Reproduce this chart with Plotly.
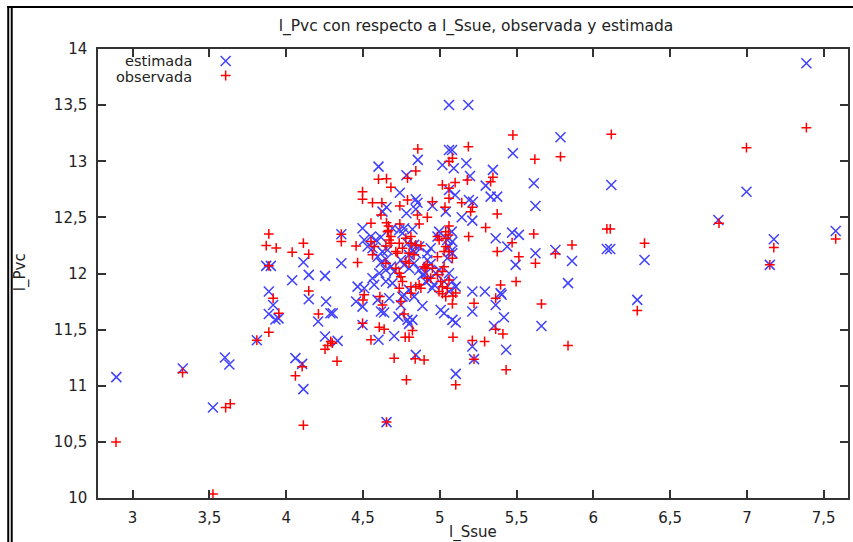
import plotly.graph_objects as go

# Estimated values (fitted l_Pvc) against l_Ssue
est_x = [
    2.894, 3.327, 3.523, 3.601, 3.63, 3.809, 3.87, 3.90, 3.887, 3.915, 3.887, 3.93, 3.95,
    4.039, 4.06, 4.104, 4.112, 4.112, 4.147, 4.253, 4.359, 4.359, 4.147, 4.26, 4.288, 4.303,
    4.208, 4.253, 4.335, 4.653,
    4.465, 4.455, 4.497, 4.617, 4.638, 4.757, 4.747, 4.731, 4.79, 4.822, 4.80, 4.497, 4.703,
    4.601, 4.844, 5.006, 5.028, 4.887, 5.082, 5.104, 5.104, 5.212, 5.294, 5.212, 5.364, 5.403,
    5.418, 5.353, 5.212, 5.223, 5.432, 5.662,
    5.06, 5.186, 5.06, 5.08, 5.476, 4.857, 5.017, 5.091, 5.173, 4.601, 4.783, 5.346, 5.197,
    5.612, 5.299, 5.06, 5.10, 4.74, 5.331, 5.374, 4.844, 4.855, 5.19, 5.216, 5.623, 4.653,
    4.952, 4.844, 4.627, 4.783, 5.039, 5.143, 5.212, 4.497, 4.768, 4.822, 5.078, 5.471, 5.515,
    5.364, 5.439, 5.623, 5.494, 5.396,
    4.508, 4.552, 4.584, 4.617, 4.53, 4.562, 4.627, 4.66, 4.692, 4.736, 4.757, 4.79, 4.833,
    4.866, 4.822, 4.844, 4.80, 4.595, 4.649, 4.617, 4.919, 4.941, 4.985, 4.996, 5.049, 5.06,
    5.082, 5.082, 5.049, 5.071, 4.919, 4.941,
    4.974, 4.995, 5.06, 5.028, 5.082, 5.104, 5.06, 4.768, 4.833, 4.747, 4.606, 4.649, 4.682,
    4.703, 4.80, 4.866, 4.887, 4.909, 4.931, 4.909, 4.963, 4.952, 4.80, 4.768, 4.833, 4.649,
    4.692, 4.562, 4.573, 4.508, 4.671, 4.595,
    5.753, 5.861, 5.835, 6.088, 6.11, 6.333, 6.286, 6.814, 7.175, 7.149, 7.578, 7.387, 6.997,
    6.117, 5.786,
]
est_y = [
    11.077, 11.153, 10.806, 11.251, 11.19, 11.406, 12.068, 12.068, 11.839, 11.72, 11.64, 11.59, 11.60,
    11.94, 11.246, 11.195, 10.97, 12.10, 11.988, 11.979, 12.35, 12.092, 11.771, 11.75, 11.646, 11.646,
    11.572, 11.438, 11.40, 10.676,
    11.883, 11.75, 11.705, 11.661, 11.652, 11.794, 11.72, 11.616, 11.587, 11.587, 11.551, 11.542, 11.444,
    11.409, 11.275, 11.675, 11.646, 11.711, 11.587, 11.563, 11.106, 11.839, 11.839, 11.661, 11.72, 11.81,
    11.611, 11.533, 11.349, 11.237, 11.32, 11.533,
    13.501, 13.501, 13.10, 13.10, 13.071, 13.012, 12.967, 12.937, 12.982, 12.952, 12.875, 12.923, 12.869,
    12.804, 12.783, 12.744, 12.70, 12.72, 12.685, 12.685, 12.662, 12.631, 12.655, 12.64, 12.602, 12.59,
    12.602, 12.573, 12.551, 12.537, 12.551, 12.501, 12.471, 12.403, 12.403, 12.394, 12.373, 12.364, 12.344,
    12.314, 12.24, 12.181, 12.077, 11.825,
    12.299, 12.329, 12.299, 12.323, 12.24, 12.225, 12.195, 12.21, 12.403, 12.388, 12.359, 12.27, 12.255,
    12.24, 12.21, 12.181, 12.166, 12.15, 12.127, 12.097, 12.181, 12.225, 12.329, 12.373, 12.299, 12.24,
    12.284, 12.181, 12.136, 12.195, 12.121, 12.086,
    12.003, 12.032, 12.003, 11.928, 11.928, 11.883, 11.839, 12.077, 12.092, 12.121, 12.003, 12.032, 12.061,
    12.017, 12.047, 12.032, 11.988, 12.003, 11.943, 11.928, 11.899, 11.869, 11.854, 11.809, 11.794, 11.928,
    11.914, 11.958, 11.899, 11.869, 11.78, 11.765,
    12.21, 12.112, 11.914, 12.219, 12.219, 12.121, 11.765, 12.477, 12.305, 12.077, 12.379, 13.873, 12.729,
    12.789, 13.214,
]

# Observed values of l_Pvc against l_Ssue
obs_x = [
    2.892, 3.325, 3.523, 3.606, 3.636, 3.809, 3.887, 3.952, 3.915, 3.887, 3.87, 3.935, 3.887,
    4.039, 4.06, 4.104, 4.112, 4.147, 4.359, 4.359, 4.455, 4.465, 4.147, 4.21, 4.29, 4.30,
    4.27, 4.253, 4.331, 4.112,
    4.508, 4.50, 4.61, 4.627, 4.747, 4.768, 4.497, 4.606, 4.638, 4.822, 4.775, 4.80, 4.552,
    4.703, 4.84, 4.898, 4.783, 4.653, 5.086, 5.104, 5.082, 5.017, 5.104, 5.086, 5.223, 5.364,
    5.364, 5.411, 5.212, 5.292, 5.223, 5.432, 5.662, 5.497, 5.396, 5.835,
    5.476, 5.186, 4.857, 5.619, 5.06, 5.082, 4.844, 4.79, 4.601, 4.653, 5.346, 5.331, 5.18,
    4.682, 5.017, 5.10, 5.06, 4.497, 4.497, 5.06, 4.562, 4.623, 4.79, 4.952, 5.143, 4.74,
    5.034, 5.212, 5.201, 4.617, 4.855, 4.919, 5.374, 4.552, 4.653, 4.666, 4.666, 4.74, 4.866,
    5.06, 5.039, 5.056, 5.299, 5.612, 5.188, 5.471, 5.374, 5.515, 5.623,
    4.552, 4.573, 4.649, 4.562, 4.66, 4.682, 4.67, 4.812, 4.779, 4.812, 4.844, 4.877, 4.736,
    4.682, 4.757, 4.80, 4.833, 4.649, 4.714, 4.725, 4.985, 4.996, 5.039, 5.039, 5.028, 5.06,
    5.082, 4.779, 4.80, 4.985,
    4.898, 4.919, 4.952, 4.985, 5.017, 5.028, 5.006, 5.06, 5.017, 5.049, 4.995, 5.039, 4.714,
    4.736, 4.747, 4.909, 4.919, 4.941, 4.812, 4.844, 4.877, 4.866, 4.736, 4.757, 4.812,
    5.753, 5.861, 6.088, 6.11, 6.333, 6.286, 6.818, 7.175, 7.149, 7.578, 7.387, 6.997, 6.117,
    5.786,
]
obs_y = [
    10.498, 11.118, 10.035, 10.806, 10.839, 11.406, 11.477, 11.646, 11.78, 12.068, 12.249, 12.228, 12.353,
    12.19, 11.088, 11.17, 12.27, 12.172, 12.35, 12.284, 12.246, 12.097, 11.845, 11.64, 11.394, 11.379,
    11.358, 11.326, 11.219, 10.649,
    11.81, 11.765, 11.794, 11.72, 11.75, 11.64, 11.557, 11.522, 11.504, 11.492, 11.433, 11.433, 11.409,
    11.246, 11.24, 11.23, 11.053, 10.676, 11.433, 11.008, 11.729, 11.82, 11.826, 11.80, 11.735, 11.78,
    11.504, 11.462, 11.403, 11.394, 11.237, 11.142, 11.729, 11.928, 11.898, 11.358,
    13.234, 13.13, 13.11, 13.018, 12.997, 13.027, 12.914, 12.849, 12.84, 12.845, 12.857, 12.818, 12.833,
    12.768, 12.789, 12.81, 12.76, 12.729, 12.662, 12.67, 12.631, 12.631, 12.655, 12.64, 12.631, 12.602,
    12.59, 12.59, 12.551, 12.522, 12.522, 12.501, 12.531, 12.448, 12.453, 12.424, 12.382, 12.442, 12.442,
    12.424, 12.373, 12.344, 12.409, 12.353, 12.329, 12.275, 12.195, 12.15, 12.092,
    12.284, 12.24, 12.246, 12.166, 12.373, 12.329, 12.299, 12.329, 12.314, 12.27, 12.255, 12.248, 12.27,
    12.27, 12.225, 12.181, 12.166, 12.092, 12.195, 12.181, 12.329, 12.299, 12.314, 12.24, 12.195, 12.195,
    12.136, 12.106, 12.092, 12.15,
    12.061, 12.077, 12.047, 11.988, 12.017, 12.061, 11.928, 11.943, 11.883, 11.869, 11.839, 11.794, 12.047,
    12.003, 11.972, 12.047, 11.958, 11.958, 11.883, 11.883, 11.869, 11.899, 11.869, 11.928, 11.825,
    12.175, 12.255, 12.397, 12.397, 12.27, 11.67, 12.448, 12.231, 12.077, 12.308, 13.299, 13.121, 13.24,
    13.041,
]

x_tickvals = [3, 3.5, 4, 4.5, 5, 5.5, 6, 6.5, 7, 7.5]
x_ticktext = ["3", "3,5", "4", "4,5", "5", "5,5", "6", "6,5", "7", "7,5"]
y_tickvals = [10, 10.5, 11, 11.5, 12, 12.5, 13, 13.5, 14]
y_ticktext = ["10", "10,5", "11", "11,5", "12", "12,5", "13", "13,5", "14"]

W, H = 853, 542
ML, MR, MT, MB = 98, 3, 49, 44
PW, PH = W - ML - MR, H - MT - MB

BLUE = "rgb(64,64,255)"
RED = "rgb(255,0,0)"
INK = "#333333"
TEXT = "#222222"
FONT = "DejaVu Sans"
FS = 15


def px(xp):
    """Horizontal page pixel -> paper fraction."""
    return (xp - ML) / PW


def py(yp):
    """Vertical page pixel -> paper fraction."""
    return (H - MB - yp) / PH


est_marker = dict(symbol="x-thin", size=10, line=dict(color=BLUE, width=1.5))
obs_marker = dict(symbol="cross-thin", size=7, line=dict(color=RED, width=1.5))

fig = go.Figure()
fig.add_trace(go.Scatter(x=est_x, y=est_y, mode="markers", name="estimada",
                         marker=est_marker, showlegend=False))
fig.add_trace(go.Scatter(x=obs_x, y=obs_y, mode="markers", name="observada",
                         marker=obs_marker, showlegend=False))

# key samples, drawn on a hidden unit overlay axis
fig.add_trace(go.Scatter(x=[px(226)], y=[py(61)], mode="markers", marker=est_marker,
                         xaxis="x2", yaxis="y2", showlegend=False, hoverinfo="skip"))
fig.add_trace(go.Scatter(x=[px(226)], y=[py(75.5)], mode="markers", marker=obs_marker,
                         xaxis="x2", yaxis="y2", showlegend=False, hoverinfo="skip"))

axis_common = dict(
    showline=True, linecolor=INK, linewidth=1.5, mirror="ticks",
    ticks="inside", ticklen=8, tickwidth=1.5, tickcolor=INK,
    showgrid=False, zeroline=False,
    tickfont=dict(family=FONT, size=FS, color=TEXT),
)

fig.update_layout(
    width=W, height=H,
    margin=dict(l=ML, r=MR, t=MT, b=MB),
    paper_bgcolor="white", plot_bgcolor="white",
    separators=",.",
    xaxis=dict(range=[2.7747, 7.658], tickmode="array", tickvals=x_tickvals,
               ticktext=x_ticktext, ticklabelstandoff=5, **axis_common),
    yaxis=dict(range=[10, 14], tickmode="array", tickvals=y_tickvals,
               ticktext=y_ticktext, ticklabelstandoff=6, **axis_common),
    xaxis2=dict(overlaying="x", range=[0, 1], visible=False, anchor="y2"),
    yaxis2=dict(overlaying="y", range=[0, 1], visible=False, anchor="x2"),
    title=dict(text="l_Pvc con respecto a l_Ssue, observada y estimada",
               xref="container", x=476 / W, xanchor="center",
               yref="container", y=1 - 26 / H, yanchor="middle",
               font=dict(family=FONT, size=15.5, color=TEXT)),
    showlegend=False,
)

text_font = dict(family=FONT, size=FS, color=TEXT)
key_font = dict(family=FONT, size=14.5, color=TEXT)
fig.add_annotation(text="estimada", xref="paper", yref="paper", x=px(194), y=py(61.5),
                   xanchor="right", yanchor="middle", showarrow=False, font=key_font)
fig.add_annotation(text="observada", xref="paper", yref="paper", x=px(194), y=py(76.5),
                   xanchor="right", yanchor="middle", showarrow=False, font=key_font)
fig.add_annotation(text="l_Ssue", xref="paper", yref="paper", x=px(474), y=py(532),
                   xanchor="center", yanchor="middle", showarrow=False, font=text_font)
fig.add_annotation(text="l_Pvc", xref="paper", yref="paper", x=px(20), y=py(272),
                   xanchor="center", yanchor="middle", textangle=-90, showarrow=False,
                   font=text_font)

# window frame along the left and top edges
frame = dict(type="line", xref="paper", yref="paper", line=dict(color="black", width=2))
fig.add_shape(x0=px(8), x1=px(8), y0=py(6), y1=py(545), **frame)
fig.add_shape(x0=px(11.5), x1=px(11.5), y0=py(6), y1=py(545), **frame)
fig.add_shape(x0=px(7), x1=px(856), y0=py(7), y1=py(7), **frame)

fig.write_html("out.html")
